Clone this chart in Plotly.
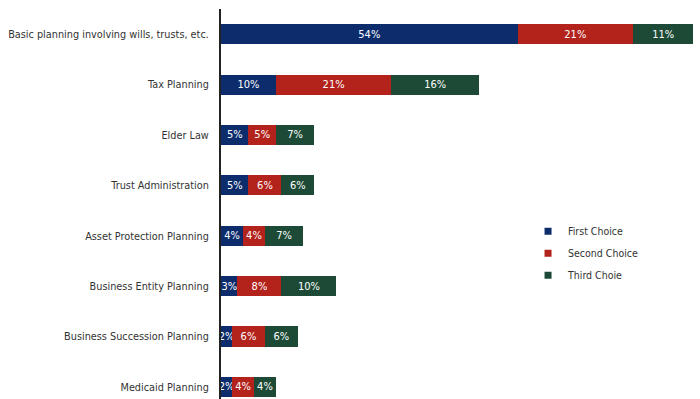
import plotly.graph_objects as go

# Estate-planning service areas, ranked by respondents' choices (percent)
categories = [
    "Basic planning involving wills, trusts, etc.",
    "Tax Planning",
    "Elder Law",
    "Trust Administration",
    "Asset Protection Planning",
    "Business Entity Planning",
    "Business Succession Planning",
    "Medicaid Planning",
]
first_choice = [54, 10, 5, 5, 4, 3, 2, 2]
second_choice = [21, 21, 5, 6, 4, 8, 6, 4]
third_choice = [11, 16, 7, 6, 7, 10, 6, 4]

series = [
    ("First Choice", first_choice, "#0c2c6c"),
    ("Second Choice", second_choice, "#b3221b"),
    ("Third Choie", third_choice, "#1c4a36"),
]

FONT = "DejaVu Sans Condensed, Arial Narrow, sans-serif"

fig = go.Figure()
for name, values, color in series:
    fig.add_trace(go.Bar(
        y=categories,
        x=values,
        orientation="h",
        name=name,
        marker=dict(color=color, line=dict(width=0)),
        width=0.4,
        text=[f"{v}%" for v in values],
        textposition="inside",
        insidetextanchor="middle",
        textangle=0,
        textfont=dict(color="white", size=11, family=FONT),
        showlegend=False,
        legendgroup=name,
        hoverinfo="skip",
    ))
    # small square legend key
    fig.add_trace(go.Scatter(
        x=[None], y=[None],
        mode="markers",
        name=name,
        marker=dict(symbol="square", size=7, color=color),
        legendgroup=name,
        showlegend=True,
    ))

fig.update_layout(
    width=700,
    height=399,
    barmode="stack",
    plot_bgcolor="white",
    paper_bgcolor="white",
    margin=dict(l=221, r=0, t=9, b=0),
    font=dict(family=FONT, color="#333333", size=11),
    uniformtext=dict(minsize=11, mode="show"),
    xaxis=dict(
        range=[0, 87.2],
        visible=False,
        showgrid=False,
        zeroline=False,
    ),
    yaxis=dict(
        categoryorder="array",
        categoryarray=categories,
        range=[7.24, -0.5],
        automargin=False,
        showline=True,
        linecolor="#222222",
        linewidth=2,
        showgrid=False,
        zeroline=False,
        ticks="",
        ticklabelstandoff=8,
        tickfont=dict(size=10.8, color="#333333", family=FONT),
    ),
    legend=dict(
        x=0.641,
        y=0.467,
        xanchor="left",
        yanchor="top",
        font=dict(size=10.5, color="#333333", family=FONT),
        tracegroupgap=3,
        bgcolor="rgba(0,0,0,0)",
    ),
)

fig.write_html("out.html")
